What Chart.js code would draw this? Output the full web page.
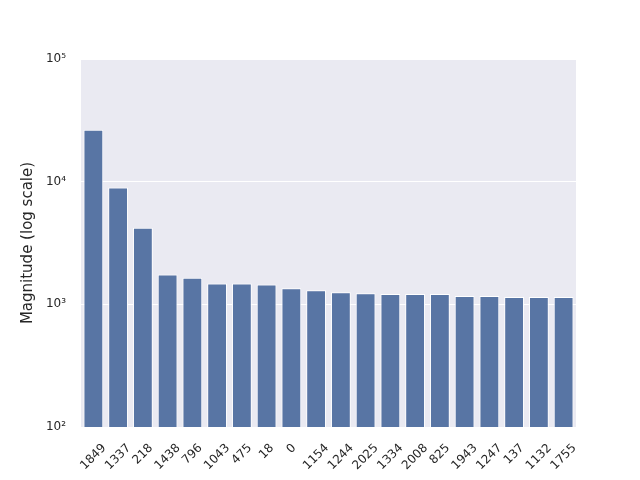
<!DOCTYPE html>
<html>
<head>
<meta charset="utf-8">
<script src="https://cdn.jsdelivr.net/npm/chart.js@4"></script>
<style>
  body { margin: 0; background: #fff; }
  canvas { display: block; }
</style>
</head>
<body>
<canvas id="myChart" width="640" height="480"></canvas>
<script>
// station ids along the x axis and their magnitudes
const labels = ['1849', '1337', '218', '1438', '796', '1043', '475', '18', '0', '1154',
                '1244', '2025', '1334', '2008', '825', '1943', '1247', '137', '1132', '1755'];
const magnitude = [26500, 8950, 4220, 1750, 1650, 1480, 1480, 1450, 1350, 1300,
                   1255, 1230, 1215, 1215, 1215, 1170, 1170, 1145, 1145, 1145];
const yTicks = [100, 1000, 10000, 100000];
const supers = { '2': '²', '3': '³', '4': '⁴', '5': '⁵' };

const bgPlugin = {
   id: 'bg',
   beforeDraw(chart) {
      const a = chart.chartArea;
      const ctx = chart.ctx;
      ctx.save();
      ctx.fillStyle = '#eaeaf2';
      ctx.fillRect(a.left, a.top, a.right - a.left, a.bottom - a.top);
      ctx.restore();
   }
};

// rotated x labels, centred on the tick like matplotlib does
const xLabelPlugin = {
   id: 'xlabels',
   afterDraw(chart) {
      const xs = chart.scales.x;
      const ctx = chart.ctx;
      const top = chart.chartArea.bottom + 16;
      ctx.save();
      ctx.font = '12px "DejaVu Sans"';
      ctx.fillStyle = '#262626';
      ctx.textAlign = 'center';
      ctx.textBaseline = 'middle';
      labels.forEach((lab, i) => {
         const w = ctx.measureText(lab).width;
         const half = (w + 9) / Math.SQRT2 / 2;
         ctx.save();
         ctx.translate(xs.getPixelForTick(i), top + half);
         ctx.rotate(-Math.PI / 4);
         ctx.fillText(lab, 0, 0);
         ctx.restore();
      });
      ctx.restore();
   }
};

new Chart(document.getElementById('myChart'), {
   type: 'bar',
   data: {
      labels: labels,
      datasets: [{
         data: magnitude,
         backgroundColor: '#5875a4',
         borderColor: '#ffffff',
         borderWidth: 1,
         categoryPercentage: 0.8,
         barPercentage: 1.0
      }]
   },
   options: {
      responsive: false,
      animation: false,
      layout: { padding: { top: 59, right: 64, left: 0, bottom: 0 } },
      plugins: { legend: { display: false }, tooltip: { enabled: false } },
      scales: {
         x: {
            grid: { display: false },
            border: { display: false },
            ticks: { display: false },
            afterFit(scale) { scale.height = 53; }
         },
         y: {
            type: 'logarithmic',
            min: 100, max: 100000,
            afterBuildTicks(scale) { scale.ticks = yTicks.map(v => ({ value: v })); },
            grid: { color: '#ffffff', lineWidth: 1, drawTicks: false },
            border: { display: false },
            ticks: {
               color: '#262626', padding: 15,
               font: { family: 'DejaVu Sans', size: 12 },
               callback: (v) => '10' + supers[String(Math.round(Math.log10(v)))]
            },
            title: {
               display: true, text: 'Magnitude (log scale)', color: '#262626',
               font: { family: 'DejaVu Sans', size: 15 }, padding: { top: 19, bottom: 0 }
            },
            afterFit(scale) { scale.width = 81; }
         }
      }
   },
   plugins: [bgPlugin, xLabelPlugin]
});
</script>
</body>
</html>
